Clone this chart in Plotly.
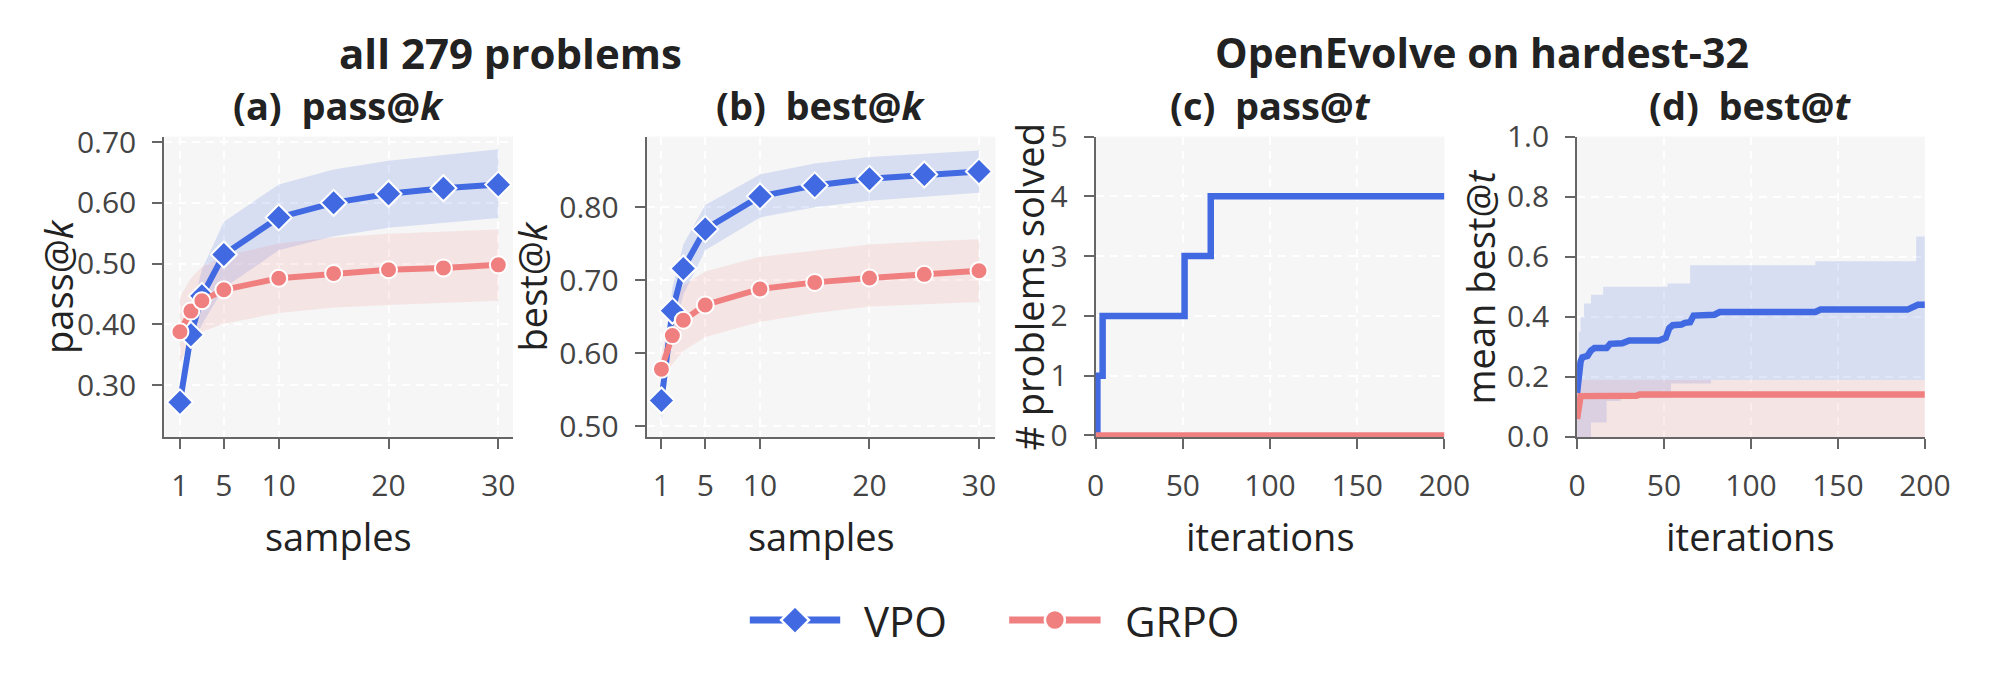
import plotly.graph_objects as go

# ---------------- data ----------------
k = [1, 2, 3, 5, 10, 15, 20, 25, 30]

a_vpo = [0.272, 0.383, 0.447, 0.515, 0.576, 0.600, 0.615, 0.624, 0.630]
a_vpo_lo = [0.250, 0.360, 0.400, 0.460, 0.522, 0.545, 0.559, 0.567, 0.575]
a_vpo_hi = [0.285, 0.420, 0.490, 0.569, 0.630, 0.655, 0.669, 0.678, 0.688]
a_grpo = [0.388, 0.422, 0.439, 0.457, 0.476, 0.484, 0.490, 0.493, 0.498]
a_grpo_lo = [0.337, 0.370, 0.388, 0.401, 0.419, 0.428, 0.432, 0.436, 0.439]
a_grpo_hi = [0.445, 0.476, 0.495, 0.512, 0.533, 0.543, 0.549, 0.553, 0.556]

b_vpo = [0.535, 0.658, 0.716, 0.770, 0.815, 0.830, 0.839, 0.845, 0.849]
b_vpo_lo = [0.505, 0.620, 0.680, 0.741, 0.786, 0.800, 0.809, 0.815, 0.820]
b_vpo_hi = [0.545, 0.690, 0.749, 0.803, 0.845, 0.860, 0.869, 0.874, 0.878]
b_grpo = [0.578, 0.624, 0.645, 0.666, 0.688, 0.697, 0.703, 0.708, 0.713]
b_grpo_lo = [0.560, 0.585, 0.603, 0.622, 0.643, 0.655, 0.664, 0.667, 0.670]
b_grpo_hi = [0.600, 0.660, 0.693, 0.712, 0.732, 0.741, 0.749, 0.753, 0.756]

c_vpo_t = [0, 1, 4, 51, 66, 200]
c_vpo = [0, 1, 2, 3, 4, 4]
c_grpo_t = [0, 200]
c_grpo = [0, 0]

d_vpo_t = [0, 1, 2, 3, 6, 8, 10, 17, 19, 26, 30, 47, 49, 51, 53, 55, 60, 62, 65, 67,
           79, 82, 137, 140, 190, 193, 196, 200]
d_vpo = [0.147, 0.21, 0.25, 0.265, 0.27, 0.288, 0.296, 0.296, 0.31, 0.312, 0.321, 0.321,
         0.325, 0.33, 0.362, 0.372, 0.374, 0.38, 0.382, 0.404, 0.407, 0.416, 0.416, 0.424,
         0.424, 0.43, 0.44, 0.44]
d_vpo_hi_t = [0, 1, 2, 4, 8, 15, 52, 65, 137, 195, 200]
d_vpo_hi = [0.15, 0.35, 0.40, 0.444, 0.473, 0.50, 0.511, 0.572, 0.585, 0.667, 0.667]
d_vpo_lo_t = [0, 8, 17, 25, 54, 77, 200]
d_vpo_lo = [0.0, 0.048, 0.12, 0.13, 0.178, 0.19, 0.19]

d_grpo_t = [0, 1, 2, 34, 36, 200]
d_grpo = [0.06, 0.13, 0.136, 0.137, 0.141, 0.141]
d_grpo_band_t = [0, 200]
d_grpo_lo = [0.0, 0.0]
d_grpo_hi = [0.19, 0.19]

series_names = ["VPO", "GRPO"]

# ---------------- style ----------------
BLUE = "#4169E1"
RED = "#F08080"
BLUE_FILL = "rgba(65,105,225,0.17)"
RED_FILL = "rgba(240,128,128,0.15)"
FONT = "Open Sans"
W, H = 2000, 687
LW = 6
DSIZE, CSIZE = 20, 17

fig = go.Figure()

def band(x, lo, hi, color, xa, ya, shape="linear", xlo=None):
    fig.add_trace(go.Scatter(x=xlo if xlo is not None else x, y=lo, mode="lines",
                             line=dict(width=0, shape=shape),
                             showlegend=False, hoverinfo="skip", xaxis=xa, yaxis=ya))
    fig.add_trace(go.Scatter(x=x, y=hi, mode="lines", line=dict(width=0, shape=shape),
                             fill="tonexty", fillcolor=color, showlegend=False,
                             hoverinfo="skip", xaxis=xa, yaxis=ya))

def marker_line(x, y, color, symbol, size, xa, ya):
    fig.add_trace(go.Scatter(x=x, y=y, mode="lines+markers", showlegend=False,
                             line=dict(color=color, width=LW),
                             marker=dict(symbol=symbol, size=size, color=color,
                                         line=dict(color="white", width=2)),
                             cliponaxis=False, xaxis=xa, yaxis=ya))

# panel a
band(k, a_vpo_lo, a_vpo_hi, BLUE_FILL, "x", "y")
band(k, a_grpo_lo, a_grpo_hi, RED_FILL, "x", "y")
marker_line(k, a_vpo, BLUE, "diamond", DSIZE, "x", "y")
marker_line(k, a_grpo, RED, "circle", CSIZE, "x", "y")

# panel b
band(k, b_vpo_lo, b_vpo_hi, BLUE_FILL, "x2", "y2")
band(k, b_grpo_lo, b_grpo_hi, RED_FILL, "x2", "y2")
marker_line(k, b_vpo, BLUE, "diamond", DSIZE, "x2", "y2")
marker_line(k, b_grpo, RED, "circle", CSIZE, "x2", "y2")

# panel c
fig.add_trace(go.Scatter(x=c_vpo_t, y=c_vpo, mode="lines", line=dict(color=BLUE, width=6.5, shape="hv"),
                         showlegend=False, xaxis="x3", yaxis="y3"))
fig.add_trace(go.Scatter(x=c_grpo_t, y=c_grpo, mode="lines", line=dict(color=RED, width=6.5),
                         showlegend=False, xaxis="x3", yaxis="y3"))

# panel d
band(d_vpo_hi_t, d_vpo_lo, d_vpo_hi, BLUE_FILL, "x4", "y4", shape="hv", xlo=d_vpo_lo_t)
band(d_grpo_band_t, d_grpo_lo, d_grpo_hi, RED_FILL, "x4", "y4")
fig.add_trace(go.Scatter(x=d_vpo_t, y=d_vpo, mode="lines", line=dict(color=BLUE, width=6.5),
                         showlegend=False, xaxis="x4", yaxis="y4"))
fig.add_trace(go.Scatter(x=d_grpo_t, y=d_grpo, mode="lines", line=dict(color=RED, width=6.5),
                         showlegend=False, xaxis="x4", yaxis="y4"))

# ---------------- layout ----------------
ytop, ybot = 122, 442
ydom = [1 - ybot / H, 1 - ytop / H]
xdoms = [[158, 513], [649, 1004], [1106, 1461], [1596, 1950]]

axis_common = dict(showline=True, linecolor="#666666", linewidth=2, ticks="outside", ticklen=10,
                   tickwidth=2, tickcolor="#666666", showgrid=True, gridcolor="white", gridwidth=2,
                   griddash="8px,6px", zeroline=False, mirror=False, layer="below traces",
                   tickfont=dict(family=FONT, size=30, color="#444444"))

layout = dict(width=W, height=H, margin=dict(l=0, r=0, t=0, b=0),
              paper_bgcolor="white", plot_bgcolor="#f6f6f6",
              font=dict(family=FONT, color="#222222"),
              showlegend=False)

xranges = [[-0.43, 31.34], [-0.35, 31.5], [0, 200], [0, 200]]
yranges = [[0.215, 0.709], [0.485, 0.897], [-0.025, 5], [0, 1]]
xticks = [[1, 5, 10, 20, 30], [1, 5, 10, 20, 30], [0, 50, 100, 150, 200], [0, 50, 100, 150, 200]]
yticks = [[0.3, 0.4, 0.5, 0.6, 0.7], [0.5, 0.6, 0.7, 0.8], [0, 1, 2, 3, 4, 5], [0, 0.2, 0.4, 0.6, 0.8, 1.0]]
yfmt = [".2f", ".2f", "d", ".1f"]

for i in range(4):
    sx = "" if i == 0 else str(i + 1)
    layout["xaxis" + sx] = dict(axis_common, domain=[xdoms[i][0] / W, xdoms[i][1] / W],
                                range=xranges[i], tickvals=xticks[i], anchor="y" + sx,
                                ticklabelstandoff=11)
    layout["yaxis" + sx] = dict(axis_common, domain=ydom, range=yranges[i], tickvals=yticks[i],
                                tickformat=yfmt[i], anchor="x" + sx, ticklabelstandoff=10)

fig.update_layout(**layout)

# ---------------- titles, labels ----------------
ann = []
sup = [("all 279 problems", 510, 42), ("OpenEvolve on hardest-32", 1499, 41)]
for txt, xc, fs in sup:
    ann.append(dict(text="<b>" + txt + "</b>", x=xc / W, y=1 - 32 / H, xref="paper", yref="paper",
                    showarrow=False, xanchor="center", yanchor="middle",
                    font=dict(family=FONT, size=fs, color="#222222")))
subs = ["(a)&nbsp;&nbsp;pass@<i>k</i>", "(b)&nbsp;&nbsp;best@<i>k</i>",
        "(c)&nbsp;&nbsp;pass@<i>t</i>", "(d)&nbsp;&nbsp;best@<i>t</i>"]
for i, s in enumerate(subs):
    xc = (xdoms[i][0] + xdoms[i][1]) / 2
    ann.append(dict(text="<b>" + s + "</b>", x=xc / W, y=1 - 88 / H, xref="paper", yref="paper",
                    showarrow=False, xanchor="center", yanchor="middle",
                    font=dict(family=FONT, size=38, color="#222222")))
xtitles = ["samples", "samples", "iterations", "iterations"]
for i, s in enumerate(xtitles):
    xc = (xdoms[i][0] + xdoms[i][1]) / 2
    ann.append(dict(text=s, x=xc / W, y=1 - 547 / H, xref="paper", yref="paper",
                    showarrow=False, xanchor="center", yanchor="middle",
                    font=dict(family=FONT, size=38, color="#222222")))
ytitles = [("pass@<i>k</i>", 50), ("best@<i>k</i>", 532), ("# problems solved", 1038), ("mean best@<i>t</i>", 1497)]
for s, xc in ytitles:
    ann.append(dict(text=s, x=xc / W, y=(ydom[0] + ydom[1]) / 2, xref="paper", yref="paper",
                    showarrow=False, xanchor="center", yanchor="middle", textangle=-90,
                    font=dict(family=FONT, size=38, color="#222222")))

# ---------------- legend (drawn below the panels) ----------------
shapes = []
ly = 1 - 637 / H
leg = [(series_names[0], BLUE, "diamond", 754, 846, 868), (series_names[1], RED, "circle", 1018, 1111, 1134)]
for name, col, sym, x0, x1, xt in leg:
    shapes.append(dict(type="line", xref="paper", yref="paper", x0=x0 / W, x1=x1 / W, y0=ly, y1=ly,
                       line=dict(color=col, width=LW + 1)))
    xm = (x0 + x1) / 2 / W
    if sym == "diamond":
        shapes.append(dict(type="path", xref="paper", yref="paper", xsizemode="pixel", ysizemode="pixel",
                           xanchor=xm, yanchor=ly, path="M -14,0 L 0,14 L 14,0 L 0,-14 Z",
                           fillcolor=col, line=dict(color="white", width=2.5)))
    else:
        shapes.append(dict(type="circle", xref="paper", yref="paper", xsizemode="pixel", ysizemode="pixel",
                           xanchor=xm, yanchor=ly, x0=-10, x1=10, y0=-10, y1=10,
                           fillcolor=col, line=dict(color="white", width=2.5)))
    ann.append(dict(text=name, x=xt / W, y=ly, xref="paper", yref="paper", showarrow=False,
                    xanchor="left", yanchor="middle", font=dict(family=FONT, size=42, color="#222222")))

fig.update_layout(annotations=ann, shapes=shapes)

fig.write_html("out.html")
